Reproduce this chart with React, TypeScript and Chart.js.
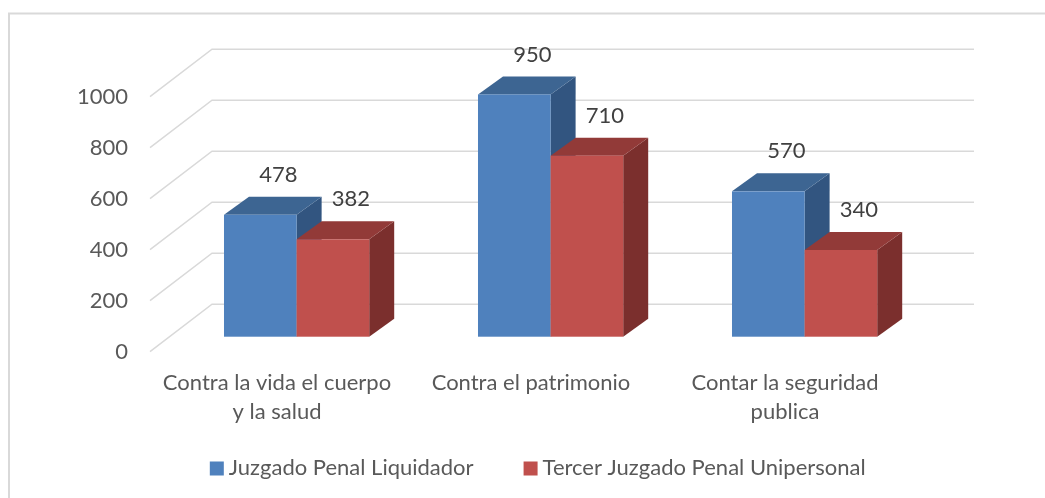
import React, { useEffect, useRef } from 'react';
import { Chart, registerables } from 'chart.js';

Chart.register(...registerables);

// ---- data ----
const categories: string[][] = [
  ['Contra la vida el cuerpo', 'y la salud'],
  ['Contra el patrimonio'],
  ['Contar la seguridad', 'publica'],
];
const seriesNames = ['Juzgado Penal Liquidador', 'Tercer Juzgado Penal Unipersonal'];
const liquidador = [478, 950, 570];
const unipersonal = [382, 710, 340];
const yMin = 0;
const yMax = 1000;
const yStep = 200;

// ---- styles ----
const FONT = 'Lato, "Liberation Sans", sans-serif';
const FONT_SIZE = 22;
const TICK_COLOR = '#595959';
const VALUE_COLOR = '#404040';
const GRID_COLOR = '#D9D9D9';
const FACE = [
  { front: '#4F81BD', top: '#3D6592', side: '#325580' },
  { front: '#C0504D', top: '#923A38', side: '#7B2F2D' },
];
// 3D geometry
const WALL_DX = 62;
const WALL_DY = -47.5;
const BAR_SX = 19.6;
const BAR_SY = -15;
const DEPTH_X = 25;
const DEPTH_Y = -18;
const LABEL_DX = 18;
const LABEL_DY = -40;

const threeD = {
  id: 'threeD',
  beforeDatasetsDraw(chart: any) {
    const { ctx, chartArea, scales } = chart;
    const y = scales.y;
    ctx.save();
    // outer border (top & left visible)
    ctx.strokeStyle = GRID_COLOR;
    ctx.lineWidth = 2;
    ctx.beginPath();
    ctx.moveTo(9, 600);
    ctx.lineTo(9, 13.5);
    ctx.lineTo(1100, 13.5);
    ctx.stroke();
    // gridlines: floor diagonal + back wall
    ctx.lineWidth = 1.5;
    y.ticks.forEach((t: any) => {
      const py = y.getPixelForValue(t.value);
      ctx.beginPath();
      ctx.moveTo(chartArea.left, py);
      ctx.lineTo(chartArea.left + WALL_DX, py + WALL_DY);
      ctx.lineTo(chartArea.right + WALL_DX, py + WALL_DY);
      ctx.stroke();
    });
    ctx.restore();
  },
  afterDatasetsDraw(chart: any) {
    const { ctx } = chart;
    ctx.save();
    const n = chart.data.labels.length;
    for (let i = 0; i < n; i++) {
      chart.data.datasets.forEach((ds: any, d: number) => {
        const el = chart.getDatasetMeta(d).data[i];
        const { x, y, base, width } = el.getProps(['x', 'y', 'base', 'width'], true);
        const l = x - width / 2 + BAR_SX;
        const r = x + width / 2 + BAR_SX;
        const t = y + BAR_SY;
        const b = base + BAR_SY;
        const c = FACE[d];
        // side
        ctx.fillStyle = c.side;
        ctx.beginPath();
        ctx.moveTo(r, t);
        ctx.lineTo(r + DEPTH_X, t + DEPTH_Y);
        ctx.lineTo(r + DEPTH_X, b + DEPTH_Y);
        ctx.lineTo(r, b);
        ctx.closePath();
        ctx.fill();
        // top
        ctx.fillStyle = c.top;
        ctx.beginPath();
        ctx.moveTo(l, t);
        ctx.lineTo(l + DEPTH_X, t + DEPTH_Y);
        ctx.lineTo(r + DEPTH_X, t + DEPTH_Y);
        ctx.lineTo(r, t);
        ctx.closePath();
        ctx.fill();
        // front
        ctx.fillStyle = c.front;
        ctx.fillRect(l, t, r - l, b - t);
      });
    }
    // value labels
    ctx.fillStyle = VALUE_COLOR;
    ctx.font = `${FONT_SIZE}px ${FONT}`;
    ctx.textAlign = 'center';
    ctx.textBaseline = 'middle';
    chart.data.datasets.forEach((ds: any, d: number) => {
      chart.getDatasetMeta(d).data.forEach((el: any, i: number) => {
        const { x, y } = el.getProps(['x', 'y'], true);
        ctx.fillText(String(ds.data[i]), x + BAR_SX + LABEL_DX, y + BAR_SY + LABEL_DY);
      });
    });
    // legend
    ctx.font = `${FONT_SIZE}px ${FONT}`;
    ctx.textAlign = 'left';
    ctx.fillStyle = TICK_COLOR;
    const box = 14;
    const gapText = 5;
    const gapItem = 50;
    const widths = chart.data.datasets.map((ds: any) => ctx.measureText(ds.label).width);
    const total = widths.reduce((a: number, w: number) => a + box + gapText + w, 0) + gapItem * (widths.length - 1);
    let lx = 537.7 - total / 2;
    const ly = 468.5;
    chart.data.datasets.forEach((ds: any, d: number) => {
      ctx.fillStyle = FACE[d].front;
      ctx.fillRect(lx, ly - box / 2, box, box);
      ctx.fillStyle = TICK_COLOR;
      ctx.fillText(ds.label, lx + box + gapText, ly - 1);
      lx += box + gapText + widths[d] + gapItem;
    });
    ctx.restore();
  },
};

export default function App() {
  const ref = useRef<HTMLCanvasElement>(null);
  useEffect(() => {
    if (!ref.current) return;
    const chart = new Chart(ref.current, {
      type: 'bar',
      data: {
        labels: categories,
        datasets: [
          { label: seriesNames[0], data: liquidador, backgroundColor: 'rgba(0,0,0,0)' },
          { label: seriesNames[1], data: unipersonal, backgroundColor: 'rgba(0,0,0,0)' },
        ],
      },
      options: {
        animation: false,
        responsive: false,
        events: [],
        datasets: { bar: { categoryPercentage: 0.5717, barPercentage: 1 } },
        layout: { padding: { left: 0, top: 96.7, right: 133, bottom: 46.3 } },
        plugins: { legend: { display: false }, tooltip: { enabled: false }, title: { display: false } },
        scales: {
          x: {
            grid: { display: false, drawTicks: false },
            border: { display: false },
            ticks: {
              color: TICK_COLOR,
              font: { family: FONT, size: FONT_SIZE, lineHeight: 1.34 },
              padding: 16,
              maxRotation: 0,
              minRotation: 0,
              autoSkip: false,
            },
            afterFit: (s: any) => { s.height = 100; },
          },
          y: {
            min: yMin,
            max: yMax,
            grid: { display: false, drawTicks: false },
            border: { display: false },
            ticks: {
              stepSize: yStep,
              color: TICK_COLOR,
              font: { family: FONT, size: FONT_SIZE },
              padding: 22,
              callback: (v: any) => String(v),
            },
            afterFit: (s: any) => { s.width = 150; },
          },
        },
      },
      plugins: [threeD],
    });
    return () => chart.destroy();
  }, []);
  return (
    <div style={{ position: 'fixed', left: 0, top: 0, width: 1045, height: 498, background: '#fff' }}>
      <canvas ref={ref} width={1045} height={498} style={{ display: 'block' }} />
    </div>
  );
}
